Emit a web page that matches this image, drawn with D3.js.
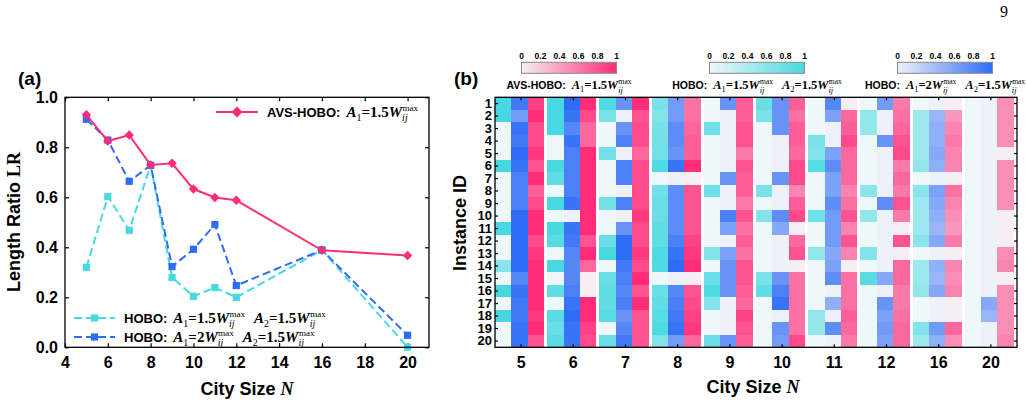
<!DOCTYPE html>
<html><head><meta charset="utf-8">
<script src="https://cdn.jsdelivr.net/npm/d3@7"></script>
<style>body{margin:0;background:#fff}svg{display:block}</style>
</head><body><svg id="c" width="1027" height="405"></svg>
<script>
// ---------------- data ----------------
const cities = [5, 6, 7, 8, 9, 10, 11, 12, 16, 20];
const lrAvs    = [0.93, 0.825, 0.849, 0.729, 0.736, 0.633, 0.599, 0.588, 0.388, 0.367];
const lrHobo15 = [0.32, 0.603, 0.468, 0.728, 0.279, 0.204, 0.239, 0.200, 0.389, 0.0];
const lrHobo2  = [0.912, 0.829, 0.664, 0.728, 0.323, 0.392, 0.491, 0.247, 0.389, 0.048];
const xTicksA = [4, 6, 8, 10, 12, 14, 16, 18, 20];
const yTicksA = [0, 0.2, 0.4, 0.6, 0.8, 1.0];
const instanceIds = [1,2,3,4,5,6,7,8,9,10,11,12,13,14,15,16,17,18,19,20];
const colorbarTicks = [0, 0.2, 0.4, 0.6, 0.8, 1];

// per-instance values, one array of 20 instances per city size
const heatHobo15 = [
  [1,1,0,0,0,1,0,0,0,0,1,0,0,0.6,0,1,0,1,0,0],
  [1,1,1,0,0,1,0.85,0,1,0,1,0.9,0,1,0,0.85,0,0.9,0.8,0.9],
  [0.95,0.7,0,0,0.75,0,0,0,0.75,0,0,0.8,1,0,0.8,0.85,0.85,0.9,0,0.8],
  [0.7,0.65,0.7,0.75,0.75,0.95,0,0.75,0.8,0.8,0.85,0.85,0.95,0.95,0,0.8,0.85,0.9,0.95,0.65],
  [0,0,0.75,0,0,0,0,0.75,0,0,0,0,0.65,0,0.8,0.95,0.65,0,0,0.8],
  [0.8,0.7,0,0,0,0,0,0.7,0,0.65,0,0,0,0,0.7,0.85,0,0,0,0],
  [0,0,0,0.7,0.65,0.9,0,0,0,0.75,0,0,0.55,0,0,0,0,0.55,0.55,0],
  [0,0.55,0.55,0,0,0,0,0.6,0,0.55,0,0,0.65,0,0.9,0,0,0,0,0],
  [0,0.5,0.5,0.5,0.5,0.55,0,0.6,0.5,0.5,0.5,0.6,0,0.5,0.5,0.55,0,0,0.65,0.5],
  [0,0,0,0,0,0,0,0,0,0,0,0,0,0,0,0,0,0,0,0]
];
const heatHobo2 = [
  [0.9,0.65,0.95,0.9,1,0.95,0.85,0.85,0.85,1,1,1,1,1,0.8,0.95,0.9,0.9,0.95,0.95],
  [1,0.95,0.8,0.95,0.85,0.85,0.85,0.85,0.95,0,0.95,0.9,0.8,0.8,0.8,0.85,0.95,1,0.95,0.95],
  [0.7,0,0.7,0.85,0,0.85,0.85,0,0.85,0,0.7,1,1,0.9,0.85,0.8,0.85,0.7,0.8,0.9],
  [0.65,0.65,0.75,0.75,0.7,0.95,0,0.75,0.75,0.75,0.75,0.85,0.95,1,0,0.8,0.85,0.9,0.95,0.65],
  [0.7,0,0,0,0,0,0.7,0,0,0.85,0.6,0,0.6,0.7,0.7,0.7,0,0,0,0.7],
  [0.7,0.7,0.7,0,0,0,0.7,0,0,0.75,0.55,0,0,0,0.7,0.85,0.95,0,0.7,0.65],
  [0.8,0.6,0,0,0.6,0.75,0.6,0.6,0.75,0.65,0.65,0.65,0.55,0.6,0.75,0,0.5,0,0.75,0],
  [0.65,0,0,0.7,0,0,0,0,0.75,0,0,0,0,0,0.55,0,0.7,0.6,0.65,0.6],
  [0,0.45,0.5,0.5,0.55,0.5,0,0.6,0.55,0.5,0.45,0.55,0,0.5,0.45,0.55,0,0,0.65,0.5],
  [0,0,0,0,0,0,0,0,0,0,0,0,0,0,0,0,0.55,0.45,0,0]
];
const heatAvs = [
  [0.9,1,0.85,0.85,0.95,0.8,1,0.75,0.85,1,1,0.85,0.95,1,1,1,1,0.95,1,0.8],
  [1,0.85,0.7,0.7,1,1,1,1,1,1,1,0.8,1,0.7,0,0,1,1,0.9,0.85],
  [1,0.8,0.85,0.85,0.7,0.85,0.85,0.85,0.85,0.95,0.85,0.85,0.95,0.85,1,0.8,1,0.8,0.8,0.8],
  [0.65,0.65,0.7,0.75,0.75,1,0,0.8,0.8,0.8,0.8,0.9,0.95,1,0,0.8,0.85,0.9,0.95,0.7],
  [0.75,0.75,0.8,0.8,0.6,0.8,0.75,0.75,0.6,0.8,0.65,0.75,0.65,0.8,0.8,0.75,0.7,0.9,0.8,0.75],
  [0.75,0.65,0.75,0.75,0.7,0.85,0.85,0.55,0.75,0.85,0,0.7,0.8,0,0.65,0.65,0.65,0.65,0.65,0.85],
  [0,0.7,0.75,0.85,0.7,0.7,0.7,0.55,0.65,0.8,0.55,0.8,0.55,0,0.65,0.65,0.65,0.75,0.7,0.6],
  [0.6,0.65,0.7,0.8,0.85,0.6,0.7,0.6,0.8,0.6,0,0.8,0,0.7,0.7,0.6,0.6,0.65,0.7,0.7],
  [0,0.45,0.55,0.6,0.55,0.55,0,0.65,0.55,0.5,0.45,0.6,0,0.55,0.5,0.55,0,0,0.7,0.5],
  [0.5,0.5,0.5,0.5,0,0.5,0.5,0.5,0.5,0,0,0,0.5,0.55,0,0.5,0.5,0.5,0.5,0.55]
];

// ---------------- styles ----------------
const SANS = "'Liberation Sans', Arial, Helvetica, sans-serif";
const SERIF = "'Liberation Serif', 'Times New Roman', serif";
const pinkC = "#ff2d79", cyanC = "#48d8e2", blueC = "#2f6cf6";
const colAvs = d3.interpolateRgb("#f6eef3", pinkC);
const colH15 = d3.interpolateRgb("#eef7f9", cyanC);
const colH2  = d3.interpolateRgb("#eef1fa", blueC);

const svg = d3.select('#c');

function styleAxis(g, size) {
  g.select('.domain').remove();
  g.selectAll('line').attr('stroke', '#000').attr('stroke-width', 1.2);
  g.selectAll('text').attr('font-family', SANS).attr('font-weight', 'bold')
    .attr('font-size', size).attr('fill', '#000');
}

// math-style label: tokens drawn in sequence
function mathText(parent, x, y, tokens, o) {
  const g = parent.append('g');
  let cx = 0;
  tokens.forEach(tk => {
    if (tk.gap !== undefined) { cx += tk.gap; return; }
    if (tk.k === 'ss') {
      const a = g.append('text').attr('x', cx + o.ssShift).attr('y', o.supDy).text(tk.sup)
        .attr('font-family', SERIF).attr('font-size', o.sup);
      const b = g.append('text').attr('x', cx).attr('y', o.subDy).text(tk.sub)
        .attr('font-family', SERIF).attr('font-style', 'italic').attr('font-size', o.sub);
      cx += Math.max(a.node().getComputedTextLength() + o.ssShift, b.node().getComputedTextLength());
      return;
    }
    const t = g.append('text').attr('x', cx).text(tk.t);
    if (tk.k === 'sans') t.attr('font-family', SANS).attr('font-weight', 'bold').attr('font-size', o.sans).attr('y', 0);
    if (tk.k === 'it') t.attr('font-family', SERIF).attr('font-style', 'italic').attr('font-weight', 'bold').attr('font-size', o.serif).attr('y', 0);
    if (tk.k === 'rm') t.attr('font-family', SERIF).attr('font-weight', 'bold').attr('font-size', o.serif).attr('y', 0);
    if (tk.k === 'sub') t.attr('font-family', SERIF).attr('font-size', o.sub).attr('y', o.subDy1);
    cx += t.node().getComputedTextLength();
  });
  const tx = o.anchor === 'middle' ? x - cx / 2 : x;
  g.attr('transform', `translate(${tx},${y})`).attr('fill', '#000');
  return g;
}
const W = {k: 'ss', sup: 'max', sub: 'ij'};
const tokAvs = [{k:'sans', t:'AVS-HOBO:'}, {gap: 6}, {k:'it', t:'A'}, {k:'sub', t:'1'}, {k:'rm', t:'=1.5'}, {k:'it', t:'W'}, W];
const tokH15 = [{k:'sans', t:'HOBO:'}, {gap: 6}, {k:'it', t:'A'}, {k:'sub', t:'1'}, {k:'rm', t:'=1.5'}, {k:'it', t:'W'}, W,
  {gap: 9}, {k:'it', t:'A'}, {k:'sub', t:'2'}, {k:'rm', t:'=1.5'}, {k:'it', t:'W'}, W];
const tokH2 = [{k:'sans', t:'HOBO:'}, {gap: 6}, {k:'it', t:'A'}, {k:'sub', t:'1'}, {k:'rm', t:'=2'}, {k:'it', t:'W'}, W,
  {gap: 9}, {k:'it', t:'A'}, {k:'sub', t:'2'}, {k:'rm', t:'=1.5'}, {k:'it', t:'W'}, W];

// ---------------- panel (a) ----------------
const A = {l: 65, r: 429, t: 97.3, b: 347.3};
const xA = d3.scaleLinear().domain([4, 21]).range([A.l, A.r]);
const yA = d3.scaleLinear().domain([0, 1]).range([A.b, A.t]);
const gA = svg.append('g');

gA.append('g').attr('transform', `translate(0,${A.b})`)
  .call(d3.axisBottom(xA).tickValues(xTicksA).tickSize(-4).tickPadding(9).tickFormat(d3.format('d'))).call(styleAxis, 16);
gA.append('g').attr('transform', `translate(0,${A.t})`)
  .call(d3.axisTop(xA).tickValues(xTicksA).tickSize(-4).tickFormat(() => '')).call(styleAxis, 16);
gA.append('g').attr('transform', `translate(${A.l},0)`)
  .call(d3.axisLeft(yA).tickValues(yTicksA).tickSize(-4).tickPadding(7).tickFormat(d3.format('.1f'))).call(styleAxis, 16);
gA.append('g').attr('transform', `translate(${A.r},0)`)
  .call(d3.axisRight(yA).tickValues(yTicksA).tickSize(-4).tickFormat(() => '')).call(styleAxis, 16);

const seriesA = [
  {vals: lrHobo15, color: cyanC, dash: '8,4', diamond: false},
  {vals: lrHobo2,  color: blueC, dash: '8,4', diamond: false},
  {vals: lrAvs,    color: pinkC, dash: null,  diamond: true}
];
const line = d3.line().x(d => xA(d[0])).y(d => yA(d[1]));
const sq = d3.symbol(d3.symbolSquare, 52)();
const dm = d3.symbol(d3.symbolSquare, 44)();
seriesA.forEach(s => {
  const pts = cities.map((c, i) => [c, s.vals[i]]);
  gA.append('path').datum(pts).attr('d', line).attr('fill', 'none')
    .attr('stroke', s.color).attr('stroke-width', 2).attr('stroke-dasharray', s.dash);
  gA.selectAll(null).data(pts).enter().append('path')
    .attr('d', s.diamond ? dm : sq).attr('fill', s.color)
    .attr('transform', d => `translate(${xA(d[0])},${yA(d[1])})` + (s.diamond ? ' rotate(45)' : ''));
});
gA.append('rect').attr('x', A.l).attr('y', A.t).attr('width', A.r - A.l).attr('height', A.b - A.t)
  .attr('fill', 'none').attr('stroke', '#000').attr('stroke-width', 1.3);

// legend (a)
const legA = [
  {s: seriesA[2], x0: 216, x1: 258, y: 112, tok: tokAvs},
  {s: seriesA[0], x0: 74, x1: 115, y: 318, tok: tokH15},
  {s: seriesA[1], x0: 74, x1: 115, y: 337, tok: tokH2}
];
const mOptA = {sans: 13, serif: 15, sub: 10, sup: 9, supDy: -6, subDy: 4, subDy1: 3.5, ssShift: 0.5};
legA.forEach(L => {
  gA.append('line').attr('x1', L.x0).attr('x2', L.x1).attr('y1', L.y).attr('y2', L.y)
    .attr('stroke', L.s.color).attr('stroke-width', 2).attr('stroke-dasharray', L.s.dash);
  gA.append('path').attr('d', L.s.diamond ? d3.symbol(d3.symbolSquare, 60)() : sq).attr('fill', L.s.color)
    .attr('transform', `translate(${(L.x0 + L.x1) / 2},${L.y})` + (L.s.diamond ? ' rotate(45)' : ''));
  mathText(gA, L.x1 + 9, L.y + 5, L.tok, mOptA);
});

// axis titles (a)
gA.append('text').attr('x', 247).attr('y', 395).attr('text-anchor', 'middle')
  .attr('font-size', 18).attr('font-weight', 'bold').attr('font-family', SANS)
  .call(t => { t.append('tspan').text('City Size '); t.append('tspan').attr('font-family', SERIF).attr('font-style', 'italic').text('N'); });
gA.append('text').attr('transform', 'translate(20,222) rotate(-90)').attr('text-anchor', 'middle')
  .attr('font-size', 18).attr('font-weight', 'bold').attr('font-family', SANS)
  .call(t => { t.append('tspan').text('Length Ratio '); t.append('tspan').attr('font-family', SERIF).text('LR'); });
svg.append('text').attr('x', 18).attr('y', 85).attr('font-family', SANS).attr('font-weight', 'bold')
  .attr('font-size', 19).text('(a)');

// ---------------- panel (b) ----------------
const B = {l: 495, r: 1017, t: 97.3, b: 347.3};
const gB = svg.append('g');
const x0 = d3.scaleBand().domain(cities).range([B.l, B.r]);
const methods = [
  {key: 'h15', data: heatHobo15, col: colH15},
  {key: 'h2',  data: heatHobo2,  col: colH2},
  {key: 'avs', data: heatAvs,    col: colAvs}
];
const xSub = d3.scaleBand().domain(methods.map(m => m.key)).range([0, x0.bandwidth() * 0.937]);
const yB = d3.scaleBand().domain(instanceIds).range([B.t, B.b]);

const cells = [];
methods.forEach(m => cities.forEach((c, gi) => instanceIds.forEach((id, ri) => {
  cells.push({m, c, id, v: m.data[gi][ri]});
})));
gB.append('g').attr('shape-rendering', 'crispEdges').selectAll('rect').data(cells).enter().append('rect')
  .attr('x', d => x0(d.c) + xSub(d.m.key)).attr('y', d => yB(d.id))
  .attr('width', xSub.bandwidth() + 0.3).attr('height', yB.bandwidth() + 0.3)
  .attr('fill', d => d.m.col(d.v));

gB.append('g').attr('transform', `translate(0,${B.b})`)
  .call(d3.axisBottom(x0).tickSize(-3).tickPadding(9)).call(styleAxis, 16);
gB.append('g').attr('transform', `translate(0,${B.t})`)
  .call(d3.axisTop(x0).tickSize(-3).tickFormat(() => '')).call(styleAxis, 16);
gB.append('g').attr('transform', `translate(${B.l},0)`)
  .call(d3.axisLeft(yB).tickSize(-3).tickPadding(3)).call(styleAxis, 13);
gB.append('g').attr('transform', `translate(${B.r},0)`)
  .call(d3.axisRight(yB).tickSize(-3).tickFormat(() => '')).call(styleAxis, 13);
gB.append('rect').attr('x', B.l).attr('y', B.t).attr('width', B.r - B.l).attr('height', B.b - B.t)
  .attr('fill', 'none').attr('stroke', '#000').attr('stroke-width', 1.3);

gB.append('text').attr('x', 753).attr('y', 393).attr('text-anchor', 'middle')
  .attr('font-size', 18).attr('font-weight', 'bold').attr('font-family', SANS)
  .call(t => { t.append('tspan').text('City Size '); t.append('tspan').attr('font-family', SERIF).attr('font-style', 'italic').text('N'); });
gB.append('text').attr('transform', 'translate(465.5,223) rotate(-90)').attr('text-anchor', 'middle')
  .attr('font-size', 18).attr('font-weight', 'bold').attr('font-family', SANS).text('Instance ID');
svg.append('text').attr('x', 454).attr('y', 85).attr('font-family', SANS).attr('font-weight', 'bold')
  .attr('font-size', 19).text('(b)');

// colorbars
const defs = svg.append('defs');
const bars = [
  {id: 'gAvs', col: colAvs, cx: 569, tok: tokAvs},
  {id: 'gH15', col: colH15, cx: 757, tok: tokH15},
  {id: 'gH2',  col: colH2,  cx: 945, tok: tokH2}
];
const mOptB = {sans: 10.5, serif: 12.5, sub: 8.5, sup: 7.5, supDy: -5, subDy: 3.5, subDy1: 3, ssShift: 0.4};
bars.forEach(b => {
  const gr = defs.append('linearGradient').attr('id', b.id);
  d3.range(0, 1.0001, 0.1).forEach(t => gr.append('stop').attr('offset', t).attr('stop-color', b.col(t)));
  const cs = d3.scaleLinear().domain([0, 1]).range([b.cx - 47.5, b.cx + 47.5]);
  gB.append('rect').attr('x', cs(0)).attr('y', 62.3).attr('width', cs(1) - cs(0)).attr('height', 11)
    .attr('fill', `url(#${b.id})`).attr('stroke', '#8a8a8a').attr('stroke-width', 1);
  gB.selectAll(null).data(colorbarTicks).enter().append('text')
    .attr('x', d => cs(d)).attr('y', 59).attr('text-anchor', 'middle')
    .attr('font-family', SANS).attr('font-weight', 'bold').attr('font-size', 8.5).text(d => d);
  mathText(gB, b.cx, 89, b.tok, Object.assign({anchor: 'middle'}, mOptB));
});

// page number
svg.append('text').attr('x', 1004).attr('y', 17).attr('text-anchor', 'middle')
  .attr('font-family', SERIF).attr('font-size', 16).text('9');
</script></body></html>
